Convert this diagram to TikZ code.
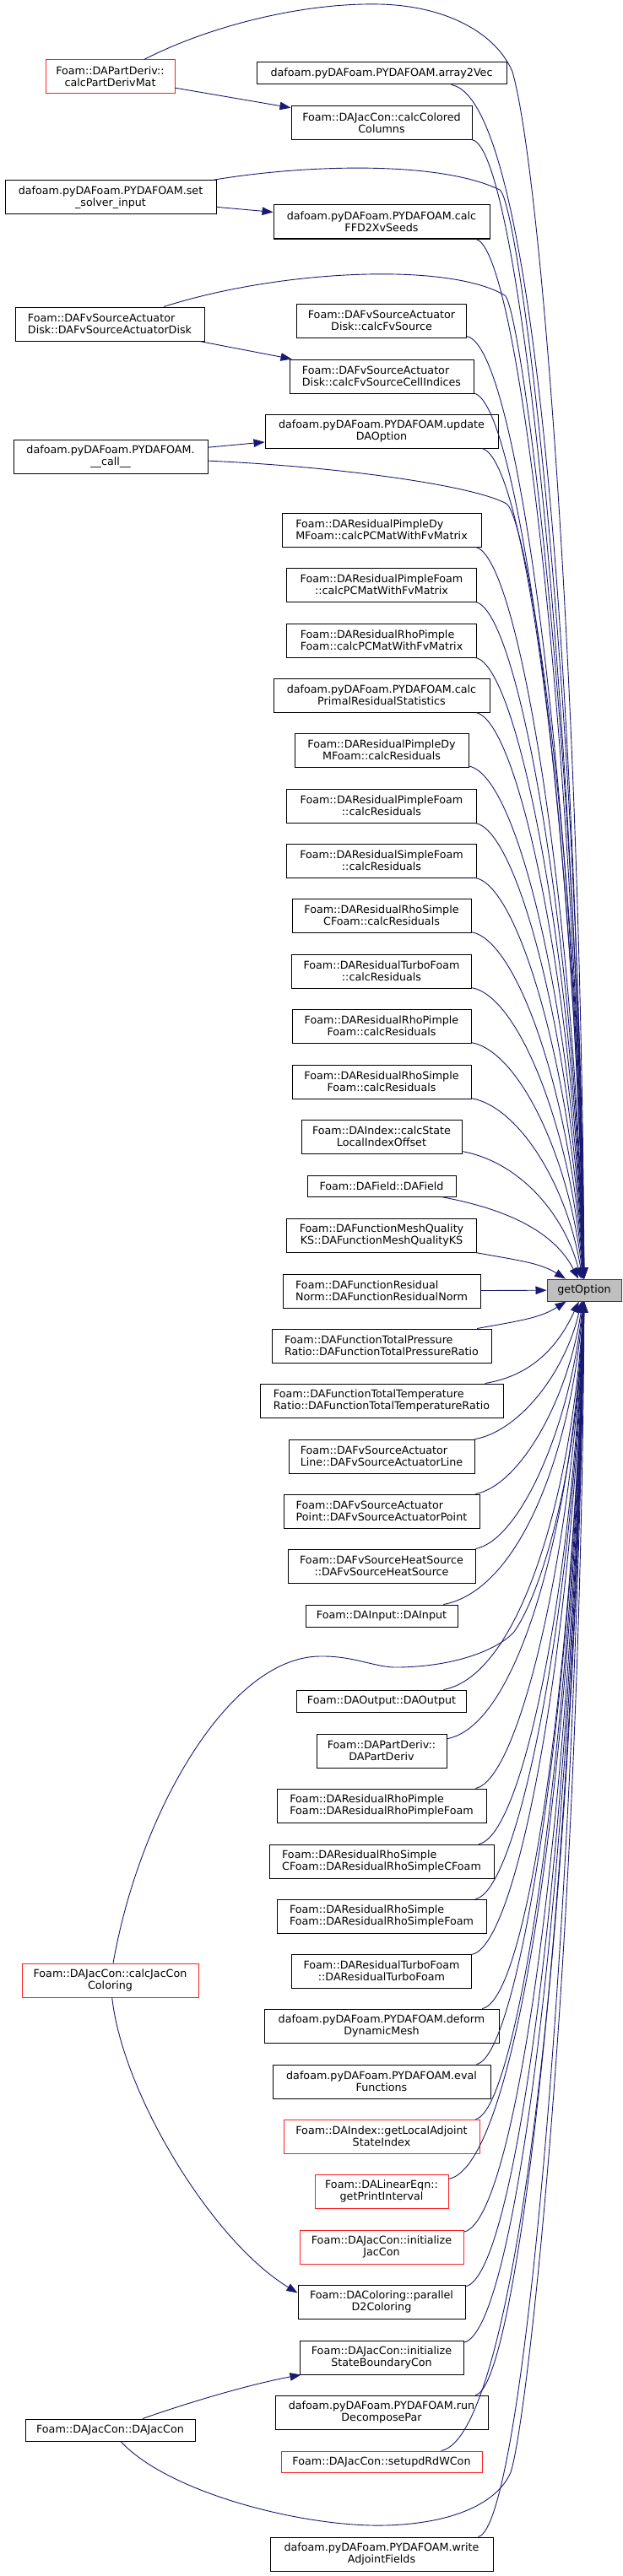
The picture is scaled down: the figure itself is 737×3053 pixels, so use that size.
\documentclass[tikz,border=0pt]{standalone}
\usepackage{fontspec}
\setmainfont{DejaVu Sans}
\usetikzlibrary{arrows.meta,calc}
\definecolor{edgeblue}{HTML}{191970}
\definecolor{nodered}{HTML}{FF2020}
\definecolor{hlgray}{HTML}{BFBFBF}
\newcommand\fsz{\fontsize{12.7}{14}\selectfont}
\tikzset{
  box/.style={draw=black, fill=white, line width=1pt, inner sep=0pt, minimum height=40pt, font=\fsz, align=center},
  lbox/.style={box, align=left},
  rbox/.style={box, draw=nodered},
  sbox/.style={box, minimum height=26pt},
  edge/.style={draw=edgeblue, line width=0.9pt, -{Triangle[length=13pt,width=9.5pt]}},
}
\newcommand\upG[1]{\draw[edge] let \p1=(#1.center), \p2=(G.center), \p3=(#1.east) in
  (#1) .. controls ({max(\x3+35pt,615pt)},{\y1-30pt}) and ({684pt-2925pt/abs(\y1-\y2)},{(\y1+\y2)/2}) .. (G);}
\newcommand\downG[1]{\draw[edge] let \p1=(#1.center), \p2=(G.center), \p3=(#1.east) in
  (#1) .. controls ({max(\x3+35pt,615pt)},{\y1+30pt}) and ({684pt-2925pt/abs(\y1-\y2)},{(\y1+\y2)/2}) .. (G);}
\begin{document}
\begin{tikzpicture}[x=1pt,y=-1pt]
\useasboundingbox (0,0) rectangle (737,3053);
% left column
\node[rbox, minimum width=153pt] (cpd) at (130.5,91) {Foam::DAPartDeriv::\\calcPartDerivMat};
\node[box, minimum width=250pt] (ssi) at (131,234) {dafoam.pyDAFoam.PYDAFOAM.set\\\_solver\_input};
\node[lbox, minimum width=224pt] (adc) at (130,384) {Foam::DAFvSourceActuator\\Disk::DAFvSourceActuatorDisk};
\node[box, minimum width=230pt] (call) at (131,541) {dafoam.pyDAFoam.PYDAFOAM.\\\_\_call\_\_};
\node[rbox, minimum width=209pt] (cjc) at (130.5,2347) {Foam::DAJacCon::calcJacCon\\Coloring};
\node[sbox, minimum width=201pt] (djc) at (130.5,2880) {Foam::DAJacCon::DAJacCon};
% middle column
\node[sbox, minimum width=296pt] (a2v) at (452,87) {dafoam.pyDAFoam.PYDAFOAM.array2Vec};
\node[box, minimum width=214pt] (ccc) at (452,146) {Foam::DAJacCon::calcColored\\Columns};
\node[box, minimum width=256pt] (ffd) at (452,263) {dafoam.pyDAFoam.PYDAFOAM.calc\\FFD2XvSeeds};
\node[box, minimum width=201pt] (cfs) at (452,380) {Foam::DAFvSourceActuator\\Disk::calcFvSource};
\node[lbox, minimum width=218pt] (cci) at (452,446) {Foam::DAFvSourceActuator\\Disk::calcFvSourceCellIndices};
\node[box, minimum width=276pt] (udo) at (452,511) {dafoam.pyDAFoam.PYDAFOAM.update\\DAOption};
\node[lbox, minimum width=236pt] (pdc) at (452,628) {Foam::DAResidualPimpleDy\\MFoam::calcPCMatWithFvMatrix};
\node[box, minimum width=225pt] (ppc) at (452,693) {Foam::DAResidualPimpleFoam\\::calcPCMatWithFvMatrix};
\node[lbox, minimum width=225pt] (rpc) at (452,759) {Foam::DAResidualRhoPimple\\Foam::calcPCMatWithFvMatrix};
\node[box, minimum width=256pt] (prs) at (452,824) {dafoam.pyDAFoam.PYDAFOAM.calc\\PrimalResidualStatistics};
\node[box, minimum width=206pt] (pdr) at (452,889) {Foam::DAResidualPimpleDy\\MFoam::calcResiduals};
\node[box, minimum width=225pt] (pfr) at (452,955) {Foam::DAResidualPimpleFoam\\::calcResiduals};
\node[box, minimum width=225pt] (sfr) at (452,1020) {Foam::DAResidualSimpleFoam\\::calcResiduals};
\node[box, minimum width=212pt] (rscr) at (452,1085) {Foam::DAResidualRhoSimple\\CFoam::calcResiduals};
\node[box, minimum width=213pt] (tfr) at (452,1151) {Foam::DAResidualTurboFoam\\::calcResiduals};
\node[box, minimum width=212pt] (rpr) at (452,1216) {Foam::DAResidualRhoPimple\\Foam::calcResiduals};
\node[box, minimum width=212pt] (rsr) at (452,1282) {Foam::DAResidualRhoSimple\\Foam::calcResiduals};
\node[box, minimum width=190pt] (sli) at (452,1347) {Foam::DAIndex::calcState\\LocalIndexOffset};
\node[sbox, minimum width=176pt, minimum height=25pt] (daf) at (452,1405.5) {Foam::DAField::DAField};
\node[box, minimum width=225pt] (mqk) at (452,1464) {Foam::DAFunctionMeshQuality\\KS::DAFunctionMeshQualityKS};
\node[lbox, minimum width=234pt] (rnm) at (452,1530) {Foam::DAFunctionResidual\\Norm::DAFunctionResidualNorm};
\node[sbox, fill=hlgray, draw=black!75, minimum width=88pt] (G) at (692,1529) {getOption};
\node[lbox, minimum width=260pt] (tpr) at (452,1595) {Foam::DAFunctionTotalPressure\\Ratio::DAFunctionTotalPressureRatio};
\node[lbox, minimum width=288pt] (ttr) at (452,1660) {Foam::DAFunctionTotalTemperature\\Ratio::DAFunctionTotalTemperatureRatio};
\node[lbox, minimum width=220pt] (afl) at (452,1726) {Foam::DAFvSourceActuator\\Line::DAFvSourceActuatorLine};
\node[lbox, minimum width=232pt] (afp) at (452,1791) {Foam::DAFvSourceActuator\\Point::DAFvSourceActuatorPoint};
\node[box, minimum width=222pt] (hsr) at (452,1856) {Foam::DAFvSourceHeatSource\\::DAFvSourceHeatSource};
\node[sbox, minimum width=180pt] (dai) at (452,1915) {Foam::DAInput::DAInput};
\node[sbox, minimum width=201pt] (dao) at (452,2016) {Foam::DAOutput::DAOutput};
\node[box, minimum width=154pt] (dpd) at (452,2075) {Foam::DAPartDeriv::\\DAPartDeriv};
\node[lbox, minimum width=248pt] (rpf) at (452,2140) {Foam::DAResidualRhoPimple\\Foam::DAResidualRhoPimpleFoam};
\node[lbox, minimum width=266pt] (rscf) at (452,2206) {Foam::DAResidualRhoSimple\\CFoam::DAResidualRhoSimpleCFoam};
\node[lbox, minimum width=248pt] (rsf) at (452,2271) {Foam::DAResidualRhoSimple\\Foam::DAResidualRhoSimpleFoam};
\node[box, minimum width=213pt] (tff) at (452,2336) {Foam::DAResidualTurboFoam\\::DAResidualTurboFoam};
\node[box, minimum width=278pt] (ddm) at (452,2401) {dafoam.pyDAFoam.PYDAFOAM.deform\\DynamicMesh};
\node[box, minimum width=258pt] (evf) at (452,2467) {dafoam.pyDAFoam.PYDAFOAM.eval\\Functions};
\node[rbox, minimum width=232pt] (las) at (452,2532) {Foam::DAIndex::getLocalAdjoint\\StateIndex};
\node[rbox, minimum width=158pt] (gpi) at (452,2597) {Foam::DALinearEqn::\\getPrintInterval};
\node[rbox, minimum width=194pt] (ijc) at (452,2663) {Foam::DAJacCon::initialize\\JacCon};
\node[box, minimum width=198pt] (pdc2) at (452,2728) {Foam::DAColoring::parallel\\D2Coloring};
\node[box, minimum width=194pt] (isb) at (452,2794) {Foam::DAJacCon::initialize\\StateBoundaryCon};
\node[box, minimum width=252pt] (rdp) at (452,2859) {dafoam.pyDAFoam.PYDAFOAM.run\\DecomposePar};
\node[sbox, draw=nodered, minimum width=238pt, minimum height=25pt] (sdw) at (452,2917.5) {Foam::DAJacCon::setupdRdWCon};
\node[box, minimum width=264pt] (waf) at (452,3027) {dafoam.pyDAFoam.PYDAFOAM.write\\AdjointFields};
% edges between callers
\draw[edge] (cpd) -- (ccc);
\draw[edge] (ssi) -- (ffd);
\draw[edge] (adc) -- (cci);
\draw[edge] (call) -- (udo);
\draw[edge] (cjc) .. controls (145,2480) and (250,2655) .. ([yshift=-10pt]pdc2.north west);
\draw[edge] (djc) .. controls (230,2845) and (300,2825) .. ([xshift=2pt]isb.south west);
% edges to getOption from the left column
\draw[edge] (cpd) .. controls (250,30) and (360,3) .. (450,5) .. controls (530,7) and (588,40) .. (607,85) .. controls (640,200) and (688,800) .. (G);
\draw[edge] (ssi) .. controls (360,195) and (520,190) .. (592,225) .. controls (615,240) and (686,800) .. (G);
\draw[edge] (adc) .. controls (330,320) and (530,310) .. (598,350) .. controls (618,365) and (686,900) .. (G);
\draw[edge] (call) .. controls (400,553) and (560,575) .. (600,597) .. controls (625,615) and (686,1000) .. (G);
\draw[edge] (cjc) .. controls (165,2150) and (270,1965) .. (378,1963) .. controls (420,1962) and (445,1977) .. (472,1976) .. controls (540,1975) and (590,1955) .. (609,1934) .. controls (640,1890) and (684,1750) .. (G);
\draw[edge] (djc) .. controls (200,2955) and (360,2995) .. (455,2993) .. controls (540,2991) and (590,2965) .. (605,2930) .. controls (625,2870) and (688,2300) .. (G);
% edges to getOption from the middle column
\foreach \nm in {a2v,ccc,ffd,cfs,cci,udo,pdc,ppc,rpc,prs,pdr,pfr,sfr,rscr,tfr,rpr,rsr,sli,daf,mqk} {\upG{\nm}}
\draw[edge] (rnm) -- (G);
\foreach \nm in {tpr,ttr,afl,afp,hsr,dai,dao,dpd,rpf,rscf,rsf,tff,ddm,evf,las,gpi,ijc,pdc2,isb,rdp,sdw,waf} {\downG{\nm}}
\end{tikzpicture}
\end{document}
